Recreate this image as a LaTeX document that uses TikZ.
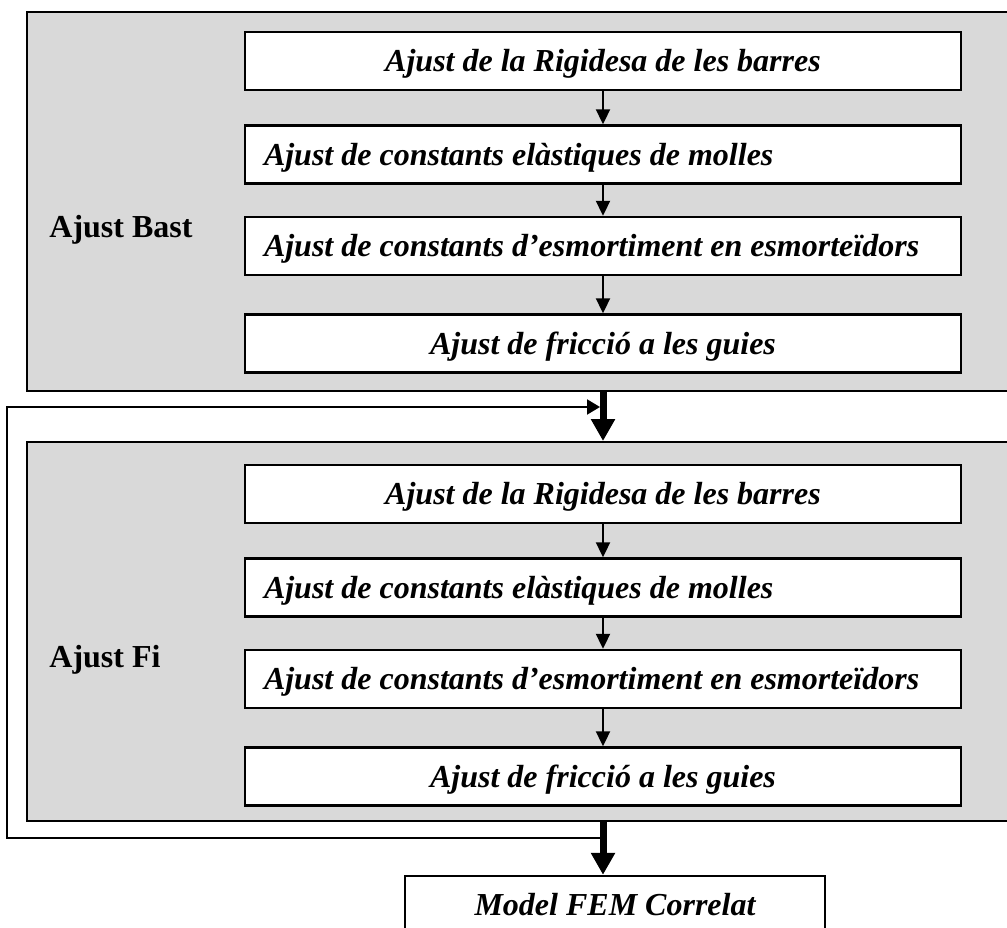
\documentclass[tikz,border=0pt]{standalone}
\usepackage{fontspec}
\setmainfont{Liberation Serif}
\usetikzlibrary{arrows.meta}
\definecolor{panelgray}{RGB}{217,217,217}
\newcommand\stepC[1]{\makebox[339pt][c]{#1}}
\newcommand\stepL[1]{\makebox[339pt][l]{#1}}
\begin{document}
\begin{tikzpicture}[x=0.5pt,y=-0.5pt,
  panel/.style={draw=black, line width=1pt, fill=panelgray, minimum width=494pt, minimum height=189.5pt, inner sep=0pt},
  stepbox/.style={draw=black, line width=1.2pt, fill=white, minimum width=358pt, minimum height=29pt, inner xsep=9.5pt, inner ysep=0pt, text height=10.5pt, text depth=0pt, font=\fontsize{16pt}{19pt}\selectfont\bfseries\itshape},
  endbox/.style={stepbox, minimum width=210pt},
  grouplabel/.style={anchor=base west, inner sep=0pt, font=\fontsize{16pt}{19pt}\selectfont\bfseries},
  thinarrow/.style={line width=1pt, -{Triangle[length=7.5pt,width=7pt]}},
  thickarrow/.style={line width=3.5pt, -{Triangle[length=11pt,width=11.5pt]}},
  feedback/.style={line width=1pt, -{Triangle[length=6.5pt,width=7.5pt]}}
]
\useasboundingbox (0,0) rectangle (1007,927);
\clip (0,0) rectangle (1007,927);

% panels
\node[panel] (g1) at (521,201.5) {};
\node[panel] (g2) at (521,631.5) {};

\node[grouplabel] (l1) at (49,237) {Ajust Bast};
\node[grouplabel] (l2) at (49,667) {Ajust Fi};

% coarse adjustment
\node[stepbox] (a1) at (603,61)    {\stepC{Ajust de la Rigidesa de les barres}};
\node[stepbox] (a2) at (603,154.5) {\stepL{Ajust de constants elàstiques de molles}};
\node[stepbox] (a3) at (603,246)   {\stepL{Ajust de constants d’esmortiment en esmorteïdors}};
\node[stepbox] (a4) at (603,343.5) {\stepC{Ajust de fricció a les guies}};

% fine adjustment
\node[stepbox] (b1) at (603,494)   {\stepC{Ajust de la Rigidesa de les barres}};
\node[stepbox] (b2) at (603,587.5) {\stepL{Ajust de constants elàstiques de molles}};
\node[stepbox] (b3) at (603,679)   {\stepL{Ajust de constants d’esmortiment en esmorteïdors}};
\node[stepbox] (b4) at (603,776.5) {\stepC{Ajust de fricció a les guies}};

\node[endbox] (m) at (615,905) {Model FEM Correlat};

% arrows inside panels
\draw[thinarrow] (a1.south) -- (a2.north);
\draw[thinarrow] (a2.south) -- (a3.north);
\draw[thinarrow] (a3.south) -- (a4.north);
\draw[thinarrow] (b1.south) -- (b2.north);
\draw[thinarrow] (b2.south) -- (b3.north);
\draw[thinarrow] (b3.south) -- (b4.north);

% thick arrows between panels
\draw[thickarrow] (a4 |- g1.south) -- (a4 |- g2.north);
\draw[thickarrow] (b4 |- g2.south) -- (b4 |- m.north);

% feedback loop
\coordinate (fbB) at (600,838);
\coordinate (fbL) at (7,407);
\coordinate (fbT) at (600,407);
\draw[feedback] (fbB) -| (fbL) -- (fbT);
\end{tikzpicture}
\end{document}
